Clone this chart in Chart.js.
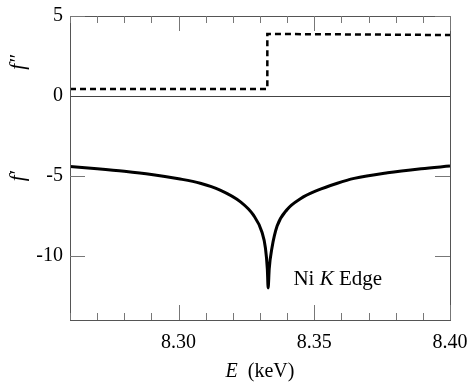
<!DOCTYPE html>
<html>
<head>
<meta charset="utf-8">
<script src="https://cdn.jsdelivr.net/npm/chart.js@4.4.1/dist/chart.umd.min.js"></script>
<style>
  html, body { margin: 0; padding: 0; background: #fff; }
  canvas { display: block; }
</style>
</head>
<body>
<canvas id="c" width="473" height="385"></canvas>
<script>
// ---- data ----
const energyF1 = [8.2600, 8.2700, 8.2800, 8.2900, 8.3000, 8.3080, 8.3153, 8.3227, 8.3276, 8.3307, 8.3320, 8.3327, 8.3330,
                  8.3334, 8.3344, 8.3363, 8.3400, 8.3449, 8.3511, 8.3585, 8.3647, 8.3770, 8.3894, 8.4000];
const f1 =       [-4.40, -4.54, -4.70, -4.90, -5.17, -5.45, -5.88, -6.60, -7.45, -8.50, -9.50, -10.8, -12.0,
                  -10.8, -9.50, -8.13, -7.09, -6.42, -5.90, -5.45, -5.15, -4.80, -4.55, -4.38];
const energyF2 = [8.260, 8.3327, 8.3327, 8.400];
const f2 =       [0.44, 0.44, 3.88, 3.81];
const xTickValues = [8.30, 8.35, 8.40];
const xTickLabels = ['8.30', '8.35', '8.40'];
const yTickValues = [5, 0, -5, -10];
const yTickLabels = ['5', '0', '-5', '-10'];
const annotationText = ['Ni ', 'K', ' Edge'];

const SERIF = "'Liberation Serif', 'DejaVu Serif', serif";
const FS = 20;
Chart.defaults.font.family = SERIF;
Chart.defaults.font.size = FS;
Chart.defaults.color = '#000';

const framePlugin = {
  id: 'frame',
  afterDraw(chart) {
    const ctx = chart.ctx;
    const a = chart.chartArea;
    const xs = chart.scales.x, ys = chart.scales.y;
    ctx.save();
    // frame
    ctx.strokeStyle = '#555';
    ctx.lineWidth = 1;
    ctx.strokeRect(Math.round(a.left) + 0.5, Math.round(a.top) + 0.5, Math.round(a.right - a.left), Math.round(a.bottom - a.top));
    // x ticks (inward, top and bottom)
    ctx.strokeStyle = '#777';
    ctx.beginPath();
    const minorStep = 0.01;
    for (let k = 0; ; k++) {
      const v = xs.min + k * minorStep;
      if (v > xs.max + 1e-9) break;
      const isMajor = xTickValues.some(t => Math.abs(t - v) < 1e-6);
      const len = isMajor ? 15 : 7;
      const px = Math.round(xs.getPixelForValue(v)) + 0.5;
      ctx.moveTo(px, a.bottom); ctx.lineTo(px, a.bottom - len);
      ctx.moveTo(px, a.top); ctx.lineTo(px, a.top + len);
    }
    // y ticks (inward, left and right); the zero level carries its own full line
    yTickValues.filter(v => v !== 0).forEach(v => {
      const py = Math.round(ys.getPixelForValue(v)) + 0.5;
      ctx.moveTo(a.left, py); ctx.lineTo(a.left + 15, py);
      ctx.moveTo(a.right, py); ctx.lineTo(a.right - 15, py);
    });
    ctx.stroke();

    // y-axis titles
    ctx.fillStyle = '#000';
    ctx.font = 'italic 21px ' + SERIF;
    ctx.textAlign = 'center';
    ctx.textBaseline = 'middle';
    const t1y = ys.getPixelForValue(2.1);
    const t2y = ys.getPixelForValue(-5.0);
    [[t1y, 'f\u2033'], [t2y, 'f\u2032']].forEach(([yy, txt]) => {
      ctx.save();
      ctx.translate(18, yy);
      ctx.rotate(-Math.PI / 2);
      ctx.fillText(txt, 0, 0);
      ctx.restore();
    });

    // x-axis title: "E  (keV)"
    const cx = (a.left + a.right) / 2;
    const ty = 372;
    ctx.textBaseline = 'middle';
    ctx.textAlign = 'left';
    ctx.font = 'italic ' + FS + 'px ' + SERIF;
    const wE = ctx.measureText('E').width;
    ctx.font = FS + 'px ' + SERIF;
    const wR = ctx.measureText('  (keV)').width;
    let sx = cx - (wE + wR) / 2;
    ctx.font = 'italic ' + FS + 'px ' + SERIF;
    ctx.fillText('E', sx, ty);
    ctx.font = FS + 'px ' + SERIF;
    ctx.fillText('  (keV)', sx + wE, ty);

    // annotation "Ni K Edge"
    let ax = xs.getPixelForValue(8.3423);
    const ay = ys.getPixelForValue(-11.45);
    annotationText.forEach((part, i) => {
      ctx.font = (i === 1 ? 'italic ' : '') + '21px ' + SERIF;
      ctx.fillText(part, ax, ay);
      ax += ctx.measureText(part).width;
    });
    ctx.restore();
  }
};

new Chart(document.getElementById('c'), {
  type: 'line',
  data: {
    datasets: [
      {
        data: energyF1.map((x, i) => ({ x, y: f1[i] })),
        borderColor: '#000', borderWidth: 3, pointRadius: 0, fill: false,
        cubicInterpolationMode: 'monotone', borderJoinStyle: 'round'
      },
      {
        data: energyF2.map((x, i) => ({ x, y: f2[i] })),
        borderColor: '#000', borderWidth: 2.5, pointRadius: 0, tension: 0, fill: false,
        borderDash: [6, 4]
      }
    ]
  },
  options: {
    responsive: false,
    animation: false,
    devicePixelRatio: 1,
    layout: { padding: { top: 16, right: 23, left: 0, bottom: 0 } },
    plugins: { legend: { display: false }, tooltip: { enabled: false } },
    scales: {
      x: {
        type: 'linear', min: 8.26, max: 8.40,
        afterBuildTicks: s => { s.ticks = xTickValues.map(v => ({ value: v })); },
        afterFit: s => { s.height = 65; s.paddingLeft = 0; s.paddingRight = 0; },
        grid: { display: false },
        border: { display: false },
        ticks: {
          color: '#000', padding: 3, maxRotation: 0, autoSkip: false,
          font: { family: SERIF, size: FS },
          callback: (v) => { const i = xTickValues.findIndex(t => Math.abs(t - v) < 1e-6); return i >= 0 ? xTickLabels[i] : ''; }
        }
      },
      y: {
        type: 'linear', min: -14, max: 5,
        afterBuildTicks: s => { s.ticks = yTickValues.map(v => ({ value: v })); },
        afterFit: s => { s.width = 70; s.paddingTop = 0; s.paddingBottom = 0; },
        grid: {
          drawTicks: false, lineWidth: 1,
          color: c => (c.tick && c.tick.value === 0) ? '#444' : 'rgba(0,0,0,0)'
        },
        border: { display: false },
        ticks: {
          color: '#000', padding: 7, autoSkip: false,
          font: { family: SERIF, size: FS },
          callback: (v) => { const i = yTickValues.indexOf(v); return i >= 0 ? yTickLabels[i] : ''; }
        }
      }
    }
  },
  plugins: [framePlugin]
});
</script>
</body>
</html>
